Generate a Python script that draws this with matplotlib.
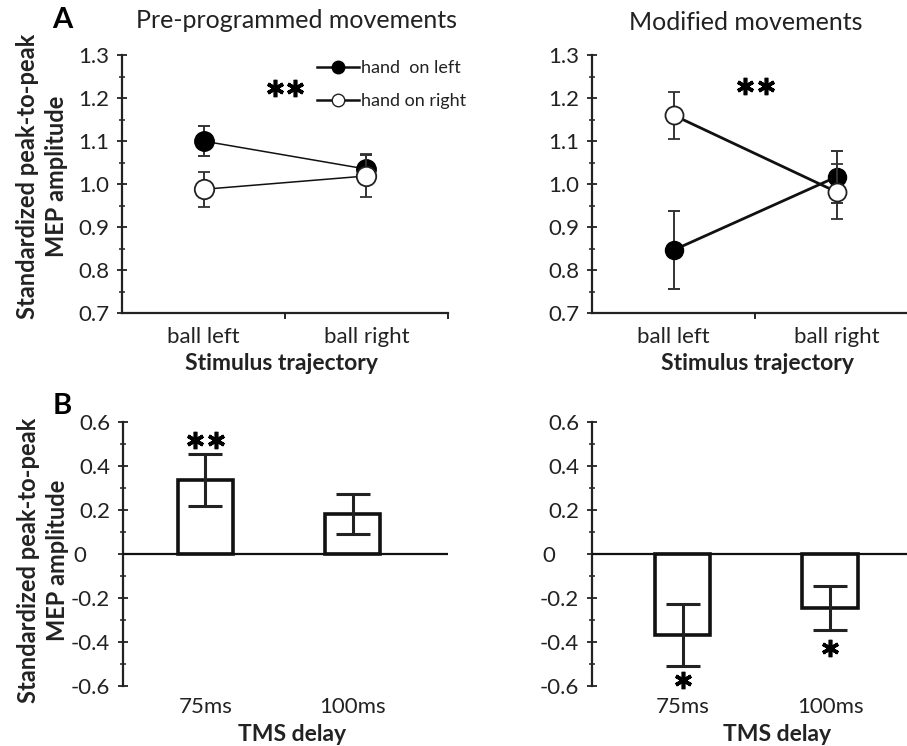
import matplotlib.pyplot as plt
import matplotlib.transforms as mtransforms
from matplotlib.lines import Line2D
import numpy as np

plt.rcParams['font.family'] = ['Lato', 'DejaVu Sans']

# panel A: standardized MEP amplitude per stimulus trajectory
trajectories = ['ball left', 'ball right']
pre_hand_left = [1.100, 1.035]
pre_hand_left_err = [0.035, 0.032]
pre_hand_right = [0.988, 1.019]
pre_hand_right_err = [0.040, 0.050]
mod_hand_left = [0.847, 1.017]
mod_hand_left_err = [0.090, 0.060]
mod_hand_right = [1.160, 0.982]
mod_hand_right_err = [0.055, 0.064]

# panel B: difference per TMS delay
delays = ['75ms', '100ms']
pre_diff = [0.336, 0.180]
pre_diff_err = [0.118, 0.090]
mod_diff = [-0.368, -0.245]
mod_diff_err = [0.140, 0.100]

W, H = 907, 746
fig = plt.figure(figsize=(W / 100, H / 100), dpi=100)


def box(x0, x1, ytop, ybot):
    return [x0 / W, 1 - ybot / H, (x1 - x0) / W, (ybot - ytop) / H]


ax1 = fig.add_axes(box(122.3, 447.7, 55, 313.3))
ax2 = fig.add_axes(box(592.3, 918, 55, 313.3))
ax3 = fig.add_axes(box(123.3, 448, 421.7, 686))
ax4 = fig.add_axes(box(592.3, 917, 421.7, 686))


def stars(ax, x, y, n):
    # n asterisks centred on (x, y), spaced 15 pt apart
    for i in range(n):
        off = (i - (n - 1) / 2) * 15
        t = mtransforms.offset_copy(ax.transData, fig=fig, x=off, y=0,
                                    units='points')
        ax.plot([x], [y], marker=(6, 2, 0), markersize=12.5, mew=2.6,
                color='black', transform=t, clip_on=False)


def style_axis(ax):
    for s in ['top', 'right']:
        ax.spines[s].set_visible(False)
    ax.spines['left'].set_linewidth(1.6)
    ax.spines['left'].set_color('#222222')
    ax.spines['bottom'].set_linewidth(1.6)
    ax.spines['bottom'].set_color('#222222')
    ax.tick_params(axis='y', which='major', direction='inout', length=7,
                   width=1.3, labelsize=16, pad=6, color='#222222',
                   labelcolor='#222222')
    ax.tick_params(axis='y', which='minor', direction='inout', length=5,
                   width=1.1, color='#222222')


def line_panel(ax, hl, hl_err, hr, hr_err, lw, ms):
    x = np.arange(len(trajectories)) + 0.5
    ax.errorbar(x, hl, yerr=hl_err, fmt='o-', color='#111111', lw=lw,
                ms=ms, mfc='black', mec='black', ecolor='#333333',
                elinewidth=1.4, capsize=4, capthick=1.4, zorder=3)
    ax.errorbar(x, hr, yerr=hr_err, fmt='o-', color='#111111', lw=lw,
                ms=ms, mfc='white', mec='#222222', mew=1.3, ecolor='#333333',
                elinewidth=1.4, capsize=4, capthick=1.4, zorder=4)
    ax.set_xlim(0, 2)
    ax.set_ylim(0.7, 1.3)
    ax.set_yticks(np.arange(0.7, 1.31, 0.1))
    ax.set_yticklabels(['%.1f' % v for v in np.arange(0.7, 1.31, 0.1)])
    ax.set_yticks(np.arange(0.75, 1.3, 0.1), minor=True)
    ax.set_xticks(x)
    ax.set_xticklabels(trajectories)
    ax.set_xticks([1, 2], minor=True)
    ax.tick_params(axis='x', which='major', length=0, labelsize=16, pad=10,
                   labelcolor='#222222')
    ax.tick_params(axis='x', which='minor', direction='out', length=4, width=1.2)
    style_axis(ax)
    ax.set_xlabel('Stimulus trajectory', fontsize=16.5, fontweight='bold',
                  color='#222222')


def bar_panel(ax, vals, errs, xlim):
    x = np.arange(len(delays))
    ax.bar(x, vals, width=0.375, color='white', edgecolor='#111111',
           linewidth=2.6, zorder=2)
    ax.errorbar(x, vals, yerr=errs, fmt='none', ecolor='#222222',
                elinewidth=2.2, capsize=12, capthick=2.2, zorder=3)
    ax.axhline(0, color='#111111', lw=1.6, zorder=4)
    ax.set_xlim(*xlim)
    ax.set_ylim(-0.6, 0.6)
    ticks = np.arange(-0.6, 0.61, 0.2)
    ax.set_yticks(ticks)
    ax.set_yticklabels(['-0.6', '-0.4', '-0.2', '0    ', '0.2', '0.4', '0.6'])
    ax.set_yticks(np.arange(-0.5, 0.6, 0.2), minor=True)
    ax.set_xticks(x)
    ax.set_xticklabels(delays)
    ax.tick_params(axis='x', length=0, labelsize=16, pad=8,
                   labelcolor='#222222')
    style_axis(ax)
    ax.spines['bottom'].set_visible(False)
    ax.set_xlabel('TMS delay', fontsize=16.5, fontweight='bold',
                  color='#222222')


line_panel(ax1, pre_hand_left, pre_hand_left_err, pre_hand_right,
           pre_hand_right_err, lw=1.1, ms=14)
line_panel(ax2, mod_hand_left, mod_hand_left_err, mod_hand_right,
           mod_hand_right_err, lw=2.0, ms=13)
bar_panel(ax3, pre_diff, pre_diff_err, (-0.556, 1.647))
bar_panel(ax4, mod_diff, mod_diff_err, (-0.614, 1.59))

ax1.xaxis.set_label_coords(0.49, -0.195)
ax2.xaxis.set_label_coords(0.507, -0.195)
ax3.xaxis.set_label_coords(0.519, -0.185)
ax4.xaxis.set_label_coords(0.569, -0.185)
for ax in (ax1, ax2, ax3, ax4):
    ax.xaxis.label.set_verticalalignment('center')

ylab = 'Standardized peak-to-peak\nMEP amplitude'
for ax, yc in ((ax1, 0.53), (ax3, 0.477)):
    ax.set_ylabel(ylab, fontsize=17, fontweight='bold', linespacing=1.3,
                  color='#222222')
    ax.yaxis.set_label_coords(-0.247, yc)
    ax.yaxis.label.set_verticalalignment('center')

# significance markers
stars(ax1, 1.0, 1.224, 2)
stars(ax2, 1.0, 1.228, 2)
stars(ax3, 0, pre_diff[0] + pre_diff_err[0] + 0.065, 2)
stars(ax4, 0, mod_diff[0] - mod_diff_err[0] - 0.067, 1)
stars(ax4, 1, mod_diff[1] - mod_diff_err[1] - 0.083, 1)

handles = [
    Line2D([], [], color='#111111', lw=1.8, marker='o', ms=9,
           mfc='black', mec='black'),
    Line2D([], [], color='#111111', lw=1.8, marker='o', ms=9,
           mfc='white', mec='#222222'),
]
fig.legend(handles, ['hand  on left', 'hand on right'], loc='upper left',
           bbox_to_anchor=(317 / W, 1 - 60 / H), frameon=False, fontsize=13,
           handlelength=2.35, handletextpad=0.1, labelspacing=0.95,
           borderpad=0, borderaxespad=0, labelcolor='#222222')

fig.text(296 / W, 1 - 21 / H, 'Pre-programmed movements', fontsize=18,
         ha='center', va='center', color='#222222')
fig.text(746 / W, 1 - 22 / H, 'Modified movements', fontsize=18,
         ha='center', va='center', color='#222222')
fig.text(62 / W, 1 - 20 / H, 'A', fontsize=21, fontweight='bold',
         ha='center', va='center')
fig.text(62 / W, 1 - 406 / H, 'B', fontsize=21, fontweight='bold',
         ha='center', va='center')

fig.savefig('out.png', dpi=100)
